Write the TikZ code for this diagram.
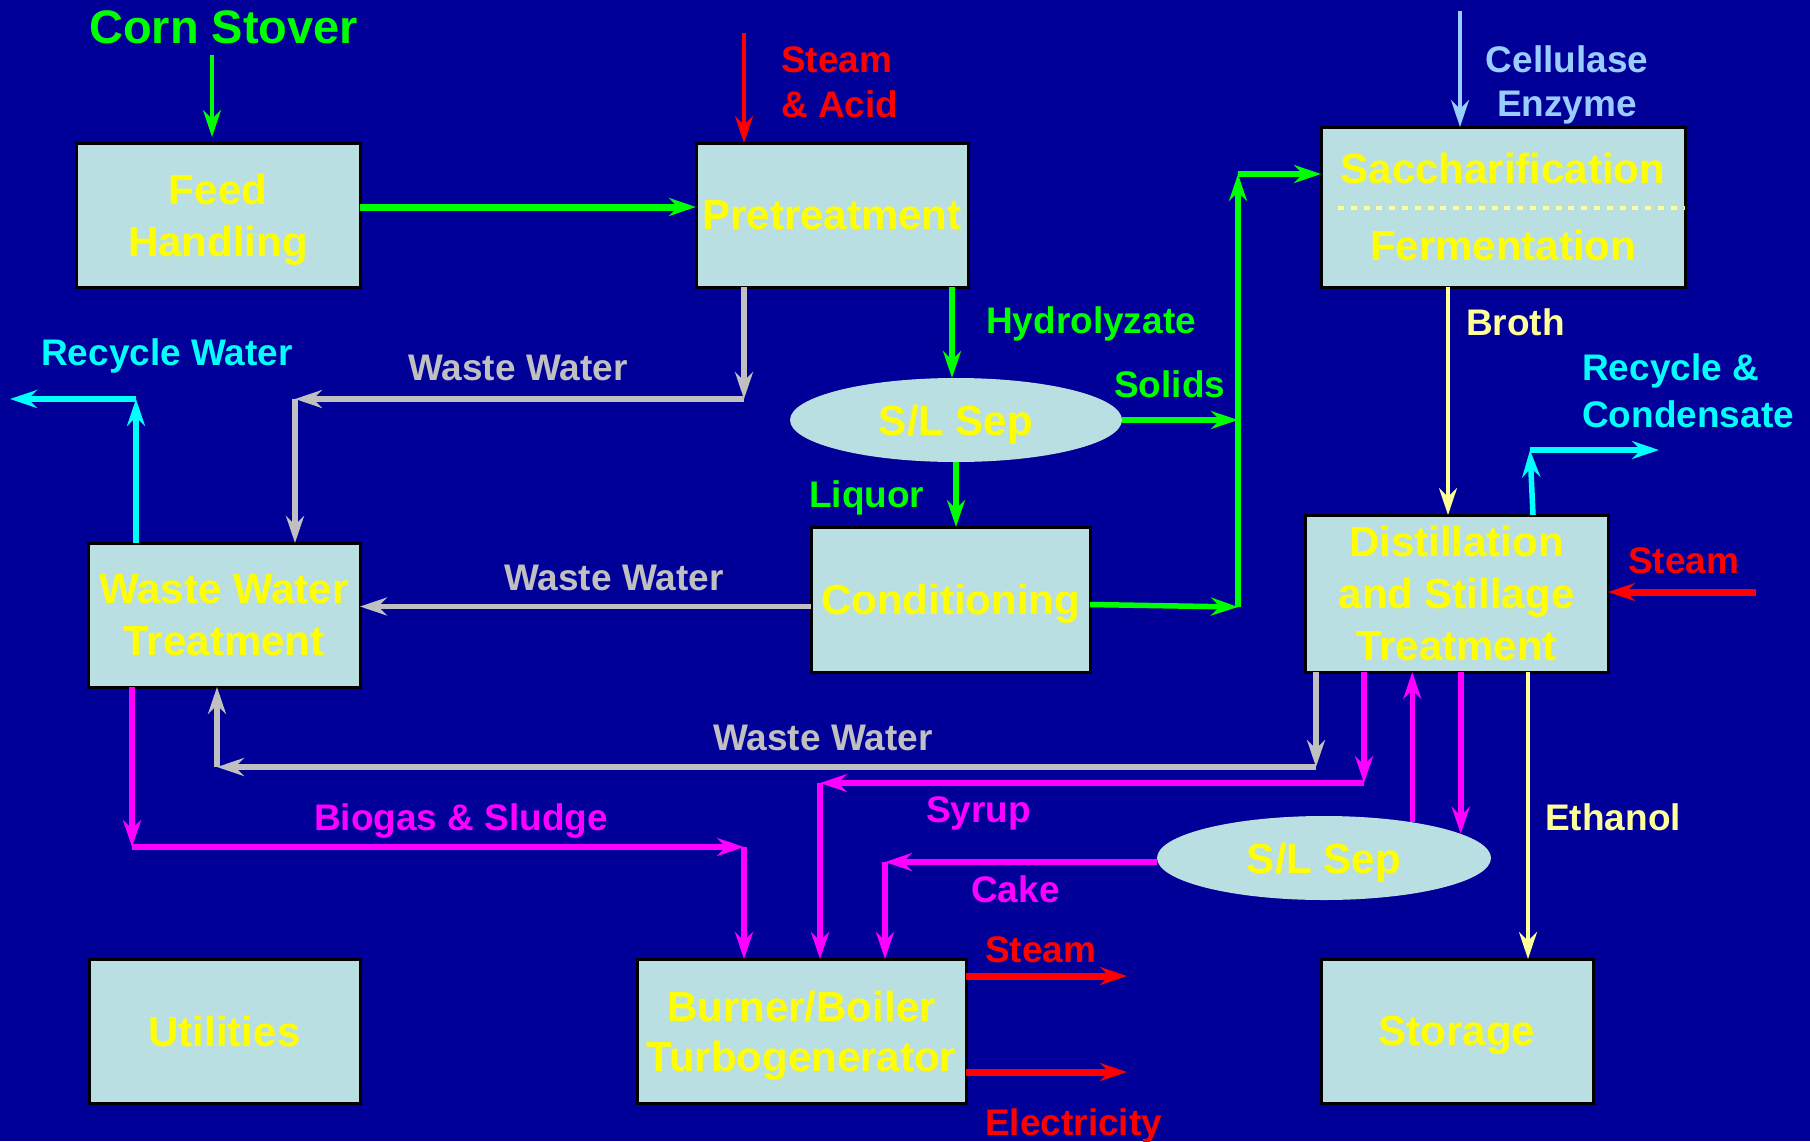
\documentclass[tikz,border=0pt]{standalone}
\usepackage{fontspec}
\setmainfont{Liberation Sans}
\usetikzlibrary{arrows.meta,shapes.geometric}
\definecolor{bgblue}{HTML}{000099}
\definecolor{boxfill}{HTML}{BADFE2}
\definecolor{cgreen}{HTML}{00FF00}
\definecolor{cred}{HTML}{FF0000}
\definecolor{ccyan}{HTML}{00FFFF}
\definecolor{cgray}{HTML}{C0C0C0}
\definecolor{cmag}{HTML}{FF00FF}
\definecolor{lyellow}{HTML}{FFFF99}
\definecolor{lblue}{HTML}{99CCFF}
\definecolor{tyellow}{HTML}{FFFF00}
\begin{document}
\begin{tikzpicture}[x=1pt,y=-1pt,
  procbox/.style={draw=black, line width=3pt, fill=boxfill, text=tyellow,
    font=\fontsize{42}{52}\selectfont\bfseries, align=center, inner sep=0pt, outer sep=0pt, text depth=0pt},
  sepell/.style={ellipse, fill=boxfill, text=tyellow, font=\fontsize{42}{52}\selectfont\bfseries,
    inner sep=0pt, outer sep=0pt, minimum width=334pt, minimum height=84pt, text depth=0pt},
  lbl/.style={font=\fontsize{37}{45}\selectfont\bfseries, anchor=base west, inner sep=0pt},
  flow/.style={-{Stealth[length=27pt,width=18pt,inset=9pt]}, line width=5.5pt},
  thinflow/.style={flow, line width=4pt},
  thickflow/.style={flow, line width=7pt},
]
\useasboundingbox (0,0) rectangle (1810,1141);
\fill[bgblue] (0,0) rectangle (1810,1141);

% process boxes
\node[procbox, minimum width=284pt, minimum height=144pt] (feed) at (218,215) {Feed\\Handling};
\node[procbox, minimum width=272pt, minimum height=144pt] (pre) at (832,215) {Pretreatment};
\node[procbox, minimum width=364pt, minimum height=160pt] (sacch) at (1503,207) {Saccharification\\[25pt]Fermentation};
\node[sepell, minimum width=332pt] (sep1) at (956,420) {S/L Sep};
\node[procbox, minimum width=279pt, minimum height=145pt] (cond) at (950.5,599.5) {Conditioning};
\node[procbox, minimum width=272pt, minimum height=144pt] (wwt) at (224,615) {Waste Water\\Treatment};
\node[procbox, minimum width=303pt, minimum height=157pt] (dist) at (1456.5,593.5) {Distillation\\and Stillage\\Treatment};
\node[sepell] (sep2) at (1324,858) {S/L Sep};
\node[procbox, minimum width=271pt, minimum height=144pt] (util) at (224.5,1031) {Utilities};
\node[procbox, minimum width=329pt, minimum height=144pt, font=\fontsize{42}{50}\selectfont\bfseries] (burner) at (801.5,1031) {Burner/Boiler\\Turbogenerator};
\node[procbox, minimum width=272pt, minimum height=144pt] (storage) at (1457,1031) {Storage};

% dotted divider in saccharification box
\draw[lyellow, line width=4.5pt, dash pattern=on 6pt off 6.8pt] (sacch.west) ++(17,1) -- ++(347,0);

% labels
\node[lbl, text=cgreen, font=\fontsize{47}{55}\selectfont\bfseries] (tcorn) at (89,43) {Corn Stover};
\node[lbl, text=cred] (tsteam1) at (781,72) {Steam};
\node[lbl, text=cred] (tacid) at (781,117) {\& Acid};
\node[lbl, text=lblue, anchor=base] (tcell) at (1567,72) {Cellulase};
\node[lbl, text=lblue, anchor=base] (tenz) at (1567,116) {Enzyme};
\node[lbl, text=cgreen] (thyd) at (986,333) {Hydrolyzate};
\node[lbl, text=ccyan] (trw) at (41,365) {Recycle Water};
\node[lbl, text=cgray] (tww1) at (408,380) {Waste Water};
\node[lbl, text=cgreen] (tsol) at (1114,397) {Solids};
\node[lbl, text=lyellow] (tbroth) at (1466,335) {Broth};
\node[lbl, text=ccyan] (trc1) at (1582,380) {Recycle \&};
\node[lbl, text=ccyan] (trc2) at (1582,427) {Condensate};
\node[lbl, text=cgreen] (tliq) at (809,507) {Liquor};
\node[lbl, text=cgray] (tww2) at (504,590) {Waste Water};
\node[lbl, text=cred] (tsteam2) at (1628,573) {Steam};
\node[lbl, text=cgray] (tww3) at (713,750) {Waste Water};
\node[lbl, text=cmag] (tsyr) at (926,822) {Syrup};
\node[lbl, text=cmag] (tbio) at (314,830) {Biogas \& Sludge};
\node[lbl, text=cmag] (tcake) at (971,902) {Cake};
\node[lbl, text=lyellow] (teth) at (1545,830) {Ethanol};
\node[lbl, text=cred] (tsteam3) at (985,962) {Steam};
\node[lbl, text=cred] (telec) at (985,1135) {Electricity};

% coordinates for free ends and corners
\coordinate (csIn) at (212,55);
\coordinate (saIn) at (744,33);
\coordinate (w1a) at (744,399);
\coordinate (w1b) at (295,399);
\coordinate (jS) at (1238,420);
\coordinate (jB) at (1238,607);
\coordinate (jT) at (1238,174);
\coordinate (cw) at ([yshift=-7pt]cond.west);
\coordinate (celIn) at (1460,11);
\coordinate (brx) at (1448,400);
\coordinate (rcC) at (1530,450);
\coordinate (rcE) at (1659,450);
\coordinate (stIn) at (1756,592);
\coordinate (rwC) at (136,399);
\coordinate (rwE) at (10,399);
\coordinate (w3a) at (1316,767);
\coordinate (w3b) at (217,767);
\coordinate (syA) at (1364,783);
\coordinate (syB) at (820,783);
\coordinate (ckB) at (885,862);
\coordinate (bgA) at (132,847);
\coordinate (bgB) at (744,847);
\coordinate (bsE) at (1127,976);
\coordinate (beE) at (1127,1072);
\coordinate (etx) at (1528,800);

% connectors
\draw[thinflow, cgreen, shorten >=6pt] (csIn) -- (csIn |- feed.north);
\draw[thickflow, cgreen] ([yshift=8pt]feed.east) -- ([yshift=8pt]pre.west);
\draw[thinflow, cred] (saIn) -- (saIn |- pre.north);

\draw[flow, cgray] (w1a |- pre.south) -- (w1a);
\draw[flow, cgray] (w1a) -- (w1b);
\draw[flow, cgray] (w1b) -- (w1b |- wwt.north);

\draw[flow, cgreen] ([xshift=120pt]pre.south) -- ([xshift=-4pt]sep1.north);
\draw[flow, cgreen] (sep1.east) -- (jS);
\draw[flow, cgreen] ([yshift=-5pt]cond.east) -- (jB);
\draw[flow, cgreen] (jB) -- (jT);
\draw[flow, cgreen] (jT) -- (jT -| sacch.west);
\draw[flow, cgreen] (sep1.south) -- (sep1.south |- cond.north);

\draw[flow, cgray] (cw) -- (cw -| wwt.east);

\draw[thinflow, lblue] (celIn) -- (celIn |- sacch.north);
\draw[thinflow, lyellow] (brx |- sacch.south) -- (brx |- dist.north);

\draw[flow, ccyan] ([xshift=76.5pt]dist.north) -- (rcC);
\draw[flow, ccyan] (rcC) -- (rcE);

\draw[thickflow, cred] (stIn) -- (stIn -| dist.east);

\draw[flow, ccyan] (rwC |- wwt.north) -- (rwC);
\draw[flow, ccyan] (rwC) -- (rwE);

\draw[flow, cgray] (w3a |- dist.south) -- (w3a);
\draw[flow, cgray] (w3a) -- (w3b);
\draw[flow, cgray] (w3b) -- (w3b |- wwt.south);

\draw[flow, cmag] (syA |- dist.south) -- (syA);
\draw[flow, cmag] (syA) -- (syB);
\draw[flow, cmag] (syB) -- (syB |- burner.north);

\draw[flow, cmag] (sep2.22) -- (sep2.22 |- dist.south);
\draw[flow, cmag] (sep2.10 |- dist.south) -- (sep2.10);

\draw[flow, cmag] ([yshift=-4pt]sep2.west) -- (ckB);
\draw[flow, cmag] (ckB) -- (ckB |- burner.north);

\draw[flow, cmag] (bgA |- wwt.south) -- (bgA);
\draw[flow, cmag] (bgA) -- (bgB);
\draw[flow, cmag] (bgB) -- (bgB |- burner.north);

\draw[thickflow, cred] (bsE -| burner.east) -- (bsE);
\draw[thickflow, cred] (beE -| burner.east) -- (beE);

\draw[thinflow, lyellow] (etx |- dist.south) -- (etx |- storage.north);
\end{tikzpicture}
\end{document}
